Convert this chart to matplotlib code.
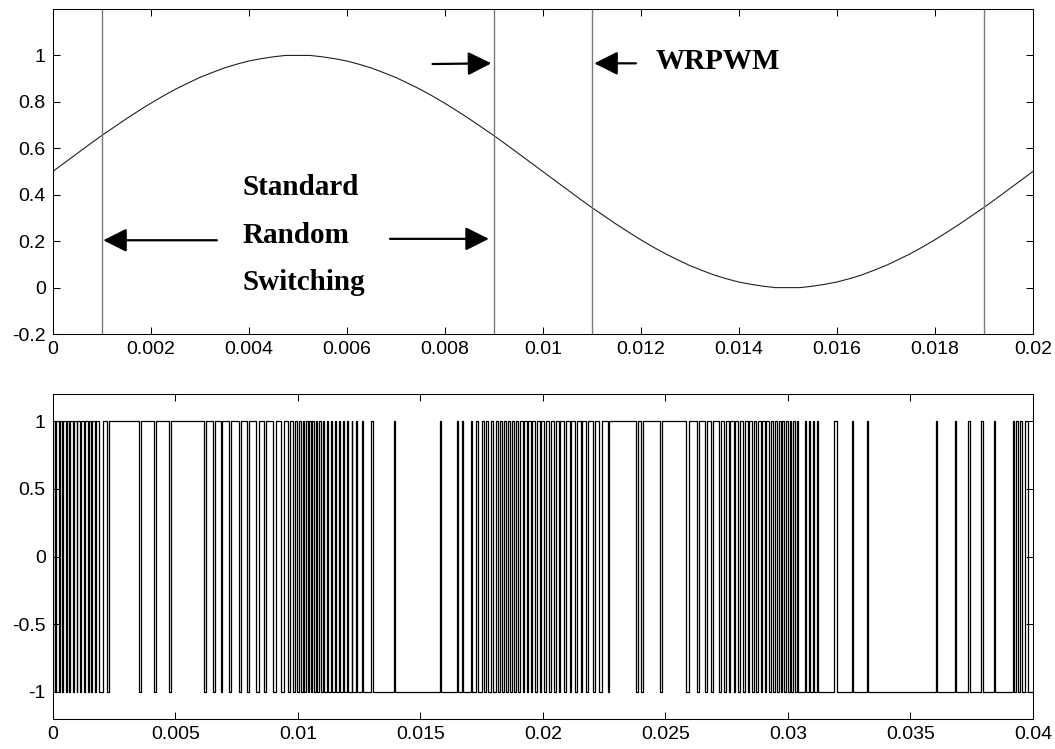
"""
plot.py
-------
Reference sine (top) with random-switching window markers, and the
resulting random PWM switching signal (bottom).
"""

import numpy as np
import matplotlib.pyplot as plt
import matplotlib as mpl

mpl.rcParams.update({
    "font.family": "Liberation Sans", "font.size": 14,
    "axes.linewidth": 0.75,
    "xtick.direction": "in", "ytick.direction": "in",
    "xtick.top": True, "ytick.right": True,
    "xtick.major.size": 5, "ytick.major.size": 5,
    "xtick.major.width": 0.75, "ytick.major.width": 0.75,
})

REF_STEP_MS = 0.25
REF_VAL = [
    0.500, 0.539, 0.578, 0.617, 0.655, 0.691, 0.727, 0.761, 0.794, 0.825,
    0.854, 0.880, 0.905, 0.926, 0.946, 0.962, 0.976, 0.986, 0.994, 1.000,
    1.000,
    1.000, 0.994, 0.986, 0.976, 0.962, 0.946, 0.926, 0.905, 0.880, 0.854,
    0.825, 0.794, 0.761, 0.727, 0.691, 0.655, 0.617, 0.578, 0.539, 0.500,
    0.461, 0.422, 0.383, 0.345, 0.309, 0.273, 0.239, 0.206, 0.175, 0.146,
    0.120, 0.095, 0.074, 0.054, 0.038, 0.024, 0.014, 0.006, 0.000, 0.000,
    0.000, 0.006, 0.014, 0.024, 0.038, 0.054, 0.074, 0.095, 0.120, 0.146,
    0.175, 0.206, 0.239, 0.273, 0.309, 0.345, 0.383, 0.422, 0.461, 0.500,
]

# Window boundaries marked on the reference (s)
MARKERS = [0.001, 0.009, 0.011, 0.019]

# Switching signal: pulse on / off instants (ms), low (-1) in between
PULSE_ON_MS = [
    0.00, 0.14, 0.29, 0.43, 0.58, 0.72, 0.86, 1.01, 1.16, 1.31, 1.47, 1.62, 1.78,
    2.05, 2.30, 3.60, 4.20, 4.82,
    6.26, 6.62, 6.92, 7.26, 7.68, 8.00, 8.40, 8.72, 9.12, 9.42, 9.70, 9.88,
    10.06, 10.20, 10.33, 10.47, 10.60, 10.74, 10.88, 11.02, 11.18, 11.34, 11.50,
    11.68, 11.84, 12.02, 12.20, 12.38, 12.62, 12.98, 13.94, 15.82,
    16.48, 16.70, 17.05, 17.28, 17.52, 17.70, 17.90, 18.08, 18.25, 18.42, 18.58,
    18.74, 18.90, 19.06, 19.22, 19.40, 19.56, 19.75, 19.93,
    20.12, 20.32, 20.52, 20.72, 20.94, 21.16, 21.38, 21.62, 21.85, 22.12, 22.40,
    22.72, 23.88, 24.10, 24.86, 25.95, 26.36, 26.70, 26.95, 27.26, 27.46, 27.66,
    27.86, 28.05, 28.24, 28.42, 28.60, 28.78, 28.96, 29.12, 29.30, 29.46, 29.62,
    29.78, 29.92, 30.08, 30.22, 30.36, 30.70, 30.86, 31.02, 31.18, 31.90, 32.62,
    33.25, 36.06, 36.84, 37.36, 37.88, 38.40, 39.18, 39.32, 39.48, 39.66,
]
PULSE_OFF_MS = [
    0.09, 0.24, 0.38, 0.53, 0.68, 0.82, 0.97, 1.12, 1.27, 1.43, 1.58, 1.74, 1.88,
    2.20, 3.52, 4.12, 4.75, 6.18,
    6.55, 6.85, 7.20, 7.60, 7.92, 8.30, 8.62, 9.00, 9.30, 9.60, 9.82, 9.98,
    10.14, 10.27, 10.40, 10.53, 10.66, 10.79, 10.93, 11.07, 11.22, 11.38, 11.54,
    11.71, 11.87, 12.05, 12.23, 12.40, 12.67, 13.06, 13.98, 15.86,
    16.52, 16.75, 17.12, 17.34, 17.58, 17.78, 17.98, 18.16, 18.34, 18.50, 18.68,
    18.84, 19.00, 19.18, 19.34, 19.52, 19.70, 19.88, 20.06,
    20.26, 20.46, 20.66, 20.88, 21.10, 21.32, 21.56, 21.78, 22.05, 22.30, 22.65,
    23.82, 24.00, 24.78, 25.86, 26.28, 26.62, 26.88, 27.20, 27.40, 27.60, 27.80,
    27.98, 28.18, 28.36, 28.54, 28.72, 28.90, 29.06, 29.24, 29.40, 29.56, 29.72,
    29.86, 30.00, 30.15, 30.29, 30.42, 30.76, 30.92, 31.07, 31.23, 32.02, 32.66,
    33.29, 36.10, 36.88, 37.42, 37.95, 38.46, 39.24, 39.40, 39.56, 39.80,
]
SIG_END_MS = 40.0

TOP_XTICKS = [0, 0.002, 0.004, 0.006, 0.008, 0.01, 0.012, 0.014, 0.016, 0.018, 0.02]
TOP_XLABELS = ["0", "0.002", "0.004", "0.006", "0.008", "0.01", "0.012",
               "0.014", "0.016", "0.018", "0.02"]
TOP_YTICKS = [-0.2, 0, 0.2, 0.4, 0.6, 0.8, 1.0]
TOP_YLABELS = ["-0.2", "0", "0.2", "0.4", "0.6", "0.8", "1"]
BOT_XTICKS = [0, 0.005, 0.01, 0.015, 0.02, 0.025, 0.03, 0.035, 0.04]
BOT_XLABELS = ["0", "0.005", "0.01", "0.015", "0.02", "0.025", "0.03", "0.035", "0.04"]
BOT_YTICKS = [-1, -0.5, 0, 0.5, 1]
BOT_YLABELS = ["-1", "-0.5", "0", "0.5", "1"]

NOTE_FONT = dict(family="Liberation Serif", fontweight="bold", fontsize=21)
ARROW = dict(arrowstyle="-|>,head_length=0.8,head_width=0.4", mutation_scale=18,
             lw=1.6, color="black", shrinkA=0, shrinkB=0)


def switching_trace():
    t, y = [0.0], [-1]
    for on, off in zip(PULSE_ON_MS, PULSE_OFF_MS):
        t += [on, on, off, off]
        y += [-1, 1, 1, -1]
    t.append(SIG_END_MS)
    y.append(-1)
    return np.array(t) / 1000.0, np.array(y)


def draw_top(ax):
    t_ref = np.arange(len(REF_VAL)) * REF_STEP_MS / 1000.0
    ax.plot(t_ref, REF_VAL, color="#202020", lw=0.8)
    for xm in MARKERS:
        ax.axvline(xm, color="#7a7a7a", lw=1.0)
    ax.set_xlim(0, 0.02)
    ax.set_ylim(-0.2, 1.2)
    ax.set_xticks(TOP_XTICKS, TOP_XLABELS)
    ax.set_yticks(TOP_YTICKS, TOP_YLABELS)

    ax.text(0.00388, 0.43, "Standard", ha="left", va="center", **NOTE_FONT)
    ax.text(0.00388, 0.225, "Random", ha="left", va="center", **NOTE_FONT)
    ax.text(0.00388, 0.02, "Switching", ha="left", va="center", **NOTE_FONT)
    ax.annotate("", xy=(0.00103, 0.204), xytext=(0.00335, 0.204), arrowprops=ARROW)
    ax.annotate("", xy=(0.00890, 0.21), xytext=(0.00688, 0.21), arrowprops=ARROW)
    ax.annotate("", xy=(0.00895, 0.966), xytext=(0.00775, 0.963), arrowprops=ARROW)
    ax.annotate("", xy=(0.01105, 0.966), xytext=(0.01190, 0.966), arrowprops=ARROW)
    ax.text(0.0123, 0.975, "WRPWM", ha="left", va="center", **NOTE_FONT)


def draw_bottom(ax):
    t, y = switching_trace()
    ax.plot(t, y, color="black", lw=0.9)
    ax.set_xlim(0, 0.04)
    ax.set_ylim(-1.2, 1.2)
    ax.set_xticks(BOT_XTICKS, BOT_XLABELS)
    ax.set_yticks(BOT_YTICKS, BOT_YLABELS)


def main():
    fig = plt.figure(figsize=(10.55, 7.49), dpi=100)
    ax_top = fig.add_axes([0.050, 0.554, 0.929, 0.434])
    ax_bot = fig.add_axes([0.050, 0.040, 0.929, 0.434])
    draw_top(ax_top)
    draw_bottom(ax_bot)
    for ax in (ax_top, ax_bot):
        ax.tick_params(pad=5)
    fig.savefig("out.png", dpi=100)


if __name__ == "__main__":
    main()
